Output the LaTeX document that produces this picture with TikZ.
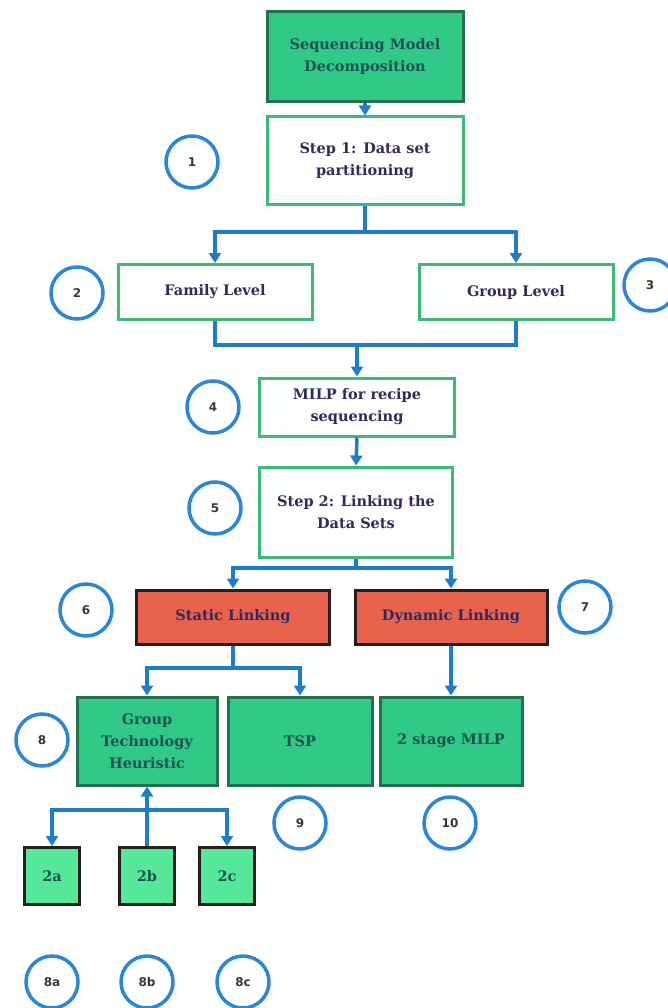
\documentclass[tikz,border=0pt]{standalone}
\usepackage{fontspec}
\setmainfont{DejaVu Serif}
\setsansfont{DejaVu Sans}
\usetikzlibrary{arrows.meta}
\definecolor{gfill}{RGB}{48,201,136}
\definecolor{gdark}{RGB}{38,112,80}
\definecolor{gline}{RGB}{62,185,118}
\definecolor{rfill}{RGB}{233,98,78}
\definecolor{kline}{RGB}{38,30,30}
\definecolor{lgfill}{RGB}{84,232,152}
\definecolor{ablue}{RGB}{30,125,200}
\definecolor{cblue}{RGB}{42,135,215}
\definecolor{navy}{RGB}{45,45,92}
\definecolor{teal}{RGB}{26,82,84}
\definecolor{numtext}{RGB}{50,55,65}
\begin{document}
\begin{tikzpicture}[x=1pt,y=-1pt,
  boxbase/.style={rectangle, line width=3pt, align=center, inner sep=2pt,
    font=\bfseries\fontsize{14.5}{22}\selectfont},
  greenbox/.style={boxbase, draw=gdark, fill=gfill, text=teal},
  whitebox/.style={boxbase, draw=gline, fill=white, text=navy},
  redbox/.style={boxbase, draw=kline, fill=rfill, text=navy},
  smallbox/.style={boxbase, draw=kline, fill=lgfill, text=teal, minimum width=55pt, minimum height=57pt},
  numc/.style={circle, draw=cblue, line width=3.5pt, fill=white, minimum size=52pt, inner sep=0pt,
    font=\sffamily\bfseries\fontsize{12}{12}\selectfont, text=numtext},
  conn/.style={draw=ablue, line width=3.5pt},
  arr/.style={conn, -{Triangle[width=12pt,length=10pt]}}
]
\useasboundingbox (0,0) rectangle (668,1008);
\fill[white] (0,0) rectangle (668,1008);

% boxes
\node[greenbox, minimum width=196pt, minimum height=90pt] (top) at (365,57) {Sequencing Model\\Decomposition};
\node[whitebox, minimum width=196pt, minimum height=88pt] (step1) at (365,161) {Step 1: Data set\\partitioning};
\node[whitebox, minimum width=194pt, minimum height=55pt] (family) at (215,292) {Family Level};
\node[whitebox, minimum width=194pt, minimum height=55pt] (group) at (516,292) {Group Level};
\node[whitebox, minimum width=195pt, minimum height=58pt] (milp) at (357,407) {MILP for recipe\\sequencing};
\node[whitebox, minimum width=193pt, minimum height=90pt] (step2) at (356,512) {Step 2: Linking the\\Data Sets};
\node[redbox, minimum width=193pt, minimum height=54pt] (static) at (233,617) {Static Linking};
\node[redbox, minimum width=192pt, minimum height=54pt] (dynamic) at (451,617) {Dynamic Linking};
\node[greenbox, minimum width=140pt, minimum height=88pt] (gt) at (147,741) {Group\\Technology\\Heuristic};
\node[greenbox, minimum width=144pt, minimum height=88pt] (tsp) at (300,741) {TSP};
\node[greenbox, minimum width=142pt, minimum height=88pt] (milp2) at (451,741) {2 stage MILP};
\node[smallbox] (b2a) at (52,876) {2a};
\node[smallbox] (b2b) at (147,876) {2b};
\node[smallbox] (b2c) at (227,876) {2c};

% circles
\node[numc] (c1) at (192,162) {1};
\node[numc] (c2) at (77,293) {2};
\node[numc] (c3) at (650,285) {3};
\node[numc] (c4) at (213,407) {4};
\node[numc] (c5) at (215,508) {5};
\node[numc] (c6) at (86,610) {6};
\node[numc] (c7) at (585,607) {7};
\node[numc] (c8) at (42,740) {8};
\node[numc] (c9) at (300,823) {9};
\node[numc] (c10) at (450,823) {10};
\node[numc] (c8a) at (52,982) {8a};
\node[numc] (c8b) at (147,982) {8b};
\node[numc] (c8c) at (243,982) {8c};

% junctions
\coordinate (j1) at (365,232);
\coordinate (j2) at (357,345);
\coordinate (j3) at (356,568);
\coordinate (j4) at (233,668);
\coordinate (j5) at (147,810);

% connectors
\draw[arr] (top.south) -- (step1.north);
\draw[conn] (step1.south) -- (j1);
\draw[arr] (j1) -| (family.north);
\draw[arr] (j1) -| (group.north);
\draw[conn] (family.south) |- (j2);
\draw[conn] (group.south) |- (j2);
\draw[arr] (j2) -- (milp.north);
\draw[arr] (milp.south) -- (step2.north);
\draw[conn] (step2.south) -- (j3);
\draw[arr] (j3) -| (static.north);
\draw[arr] (j3) -| (dynamic.north);
\draw[conn] (static.south) -- (j4);
\draw[arr] (j4) -| (gt.north);
\draw[arr] (j4) -| (tsp.north);
\draw[arr] (dynamic.south) -- (milp2.north);
\draw[arr] (b2b.north) -- (gt.south);
\draw[arr] (j5) -| (b2a.north);
\draw[arr] (j5) -| (b2c.north);
\end{tikzpicture}
\end{document}
